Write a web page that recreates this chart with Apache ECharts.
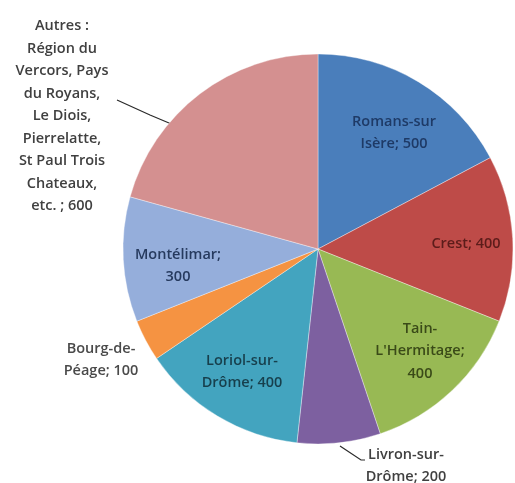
<!DOCTYPE html>
<html><head><meta charset="utf-8">
<script src="https://cdn.jsdelivr.net/npm/echarts@6/dist/echarts.min.js"></script>
<style>html,body{margin:0;padding:0;background:#fff}#c{width:515px;height:483px}</style>
</head><body><div id="c"></div>
<script>
// ---- data ----
const categories = ['Romans-sur Isère', 'Crest', "Tain-L'Hermitage", 'Livron-sur-Drôme', 'Loriol-sur-Drôme', 'Bourg-de-Péage', 'Montélimar', 'Autres : Région du Vercors, Pays du Royans, Le Diois, Pierrelatte, St Paul Trois Chateaux, etc.'];
const values = [500, 400, 400, 200, 400, 100, 300, 600];
const labelTemplates = [
  'Romans-sur\nIsère; {c}',
  'Crest; {c}',
  "Tain-\nL'Hermitage;\n{c}",
  'Livron-sur-\nDrôme; {c}',
  'Loriol-sur-\nDrôme; {c}',
  'Bourg-de-\nPéage; {c}',
  'Montélimar;\n{c}',
  'Autres :\nRégion du\nVercors, Pays\ndu Royans,\nLe Diois,\nPierrelatte,\nSt Paul Trois\nChateaux,\netc. ; {c}'
];

// ---- styling / layout ----
const colors = ['#4A7EBB', '#BE4B48', '#98B954', '#7D60A0', '#43A4BF', '#F59342', '#95AEDB', '#D49090'];
const textColors = ['#1E3A66', '#5C1C1A', '#3A4A18', '#404040', '#173F4C', '#4a4a4a', '#263A5E', '#404040'];
const outside = [false, false, false, true, false, true, false, true];
const labelAnchors = [[394, 133], [466, 244], [420, 351], [406, 466], [242, 372], [101, 360], [178, 266], [62, 116]];
const leaderLines = {
  3: [[340, 446], [361, 460], [365, 460]],
  7: [[188, 131], [150, 115], [117, 100]]
};

const chart = echarts.init(document.getElementById('c'), null, {renderer: 'canvas'});
chart.setOption({
  animation: false,
  backgroundColor: '#ffffff',
  series: [{
    type: 'pie',
    center: [318, 249],
    radius: 195,
    startAngle: 90,
    clockwise: true,
    avoidLabelOverlap: false,
    itemStyle: {borderColor: 'rgba(255,255,255,0.6)', borderWidth: 0.6},
    label: {
      fontFamily: 'Open Sans',
      fontSize: 14.5,
      fontWeight: 600,
      lineHeight: 22.5,
      align: 'center',
      formatter: p => labelTemplates[p.dataIndex].replace('{c}', p.value)
    },
    labelLine: {lineStyle: {color: '#2a2a2a', width: 1.2}},
    labelLayout: function (p) {
      const a = labelAnchors[p.dataIndex];
      const o = {x: a[0], y: a[1], align: 'center', verticalAlign: 'middle'};
      if (leaderLines[p.dataIndex]) o.labelLinePoints = leaderLines[p.dataIndex];
      return o;
    },
    data: categories.map((name, i) => ({
      name: name,
      value: values[i],
      itemStyle: {color: colors[i]},
      label: {position: outside[i] ? 'outside' : 'inside', color: textColors[i]},
      labelLine: {show: !!leaderLines[i]}
    }))
  }]
});
</script>
</body></html>
